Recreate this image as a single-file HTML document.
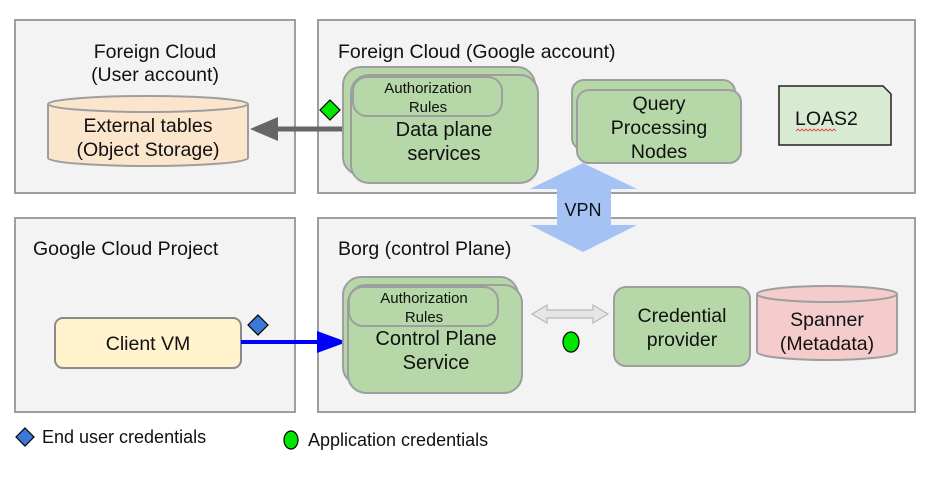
<!DOCTYPE html>
<html><head><meta charset="utf-8"><style>
body{margin:0;background:#fff;}
svg text{font-family:"Liberation Sans",Roboto,sans-serif;fill:#111;}
</style></head><body>
<svg width="944" height="472" viewBox="0 0 944 472" xmlns="http://www.w3.org/2000/svg">
<g fill="#f3f3f3" stroke="#9e9e9e" stroke-width="2">
<rect x="15" y="20" width="280" height="173"/>
<rect x="318" y="20" width="597" height="173"/>
<rect x="15" y="218" width="280" height="194"/>
<rect x="318" y="218" width="597" height="194"/>
</g>
<g font-size="19.5" text-anchor="middle">
<text x="155" y="58">Foreign Cloud</text>
<text x="155" y="81">(User account)</text>
</g>
<text x="338" y="58" font-size="19.5">Foreign Cloud (Google account)</text>
<text x="33" y="255" font-size="19.5">Google Cloud Project</text>
<text x="338" y="255" font-size="19.5">Borg (control Plane)</text>

<polygon points="583,163 637,189 611,189 611,225 637,225 583,252 530,225 557,225 557,189 530,189" fill="#a4c2f4"/>
<text x="583" y="216" font-size="18" text-anchor="middle">VPN</text>

<path d="M48,104 L48,158 A100,8 0 0 0 248,158 L248,104" fill="#fce5cd" stroke="#9e9e9e" stroke-width="2"/>
<ellipse cx="148" cy="104" rx="100" ry="8" fill="#fce5cd" stroke="#9e9e9e" stroke-width="2"/>
<g font-size="19.5" text-anchor="middle"><text x="148" y="132">External tables</text><text x="148" y="156">(Object Storage)</text></g>

<line x1="350" y1="129" x2="275" y2="129" stroke="#666" stroke-width="5"/>
<polygon points="250,129 278,117 278,141" fill="#666"/>
<polygon points="330,100 340,110 330,120 320,110" fill="#00e600" stroke="#000" stroke-width="1.2"/>

<rect x="343" y="67" width="192" height="108" rx="18" fill="#b6d7a8" stroke="#9e9e9e" stroke-width="2"/>
<rect x="351" y="75" width="187" height="108" rx="18" fill="#b6d7a8" stroke="#9e9e9e" stroke-width="2"/>
<rect x="353" y="77" width="149" height="39" rx="14" fill="#b6d7a8" stroke="#9e9e9e" stroke-width="2"/>
<g font-size="15" text-anchor="middle"><text x="428" y="93">Authorization</text><text x="428" y="112">Rules</text></g>
<g font-size="20" text-anchor="middle"><text x="444" y="136">Data plane</text><text x="444" y="160">services</text></g>

<rect x="572" y="80" width="163" height="70" rx="12" fill="#b6d7a8" stroke="#9e9e9e" stroke-width="2"/>
<rect x="577" y="90" width="164" height="73" rx="12" fill="#b6d7a8" stroke="#9e9e9e" stroke-width="2"/>
<g font-size="19.5" text-anchor="middle"><text x="659" y="110">Query</text><text x="659" y="134">Processing</text><text x="659" y="158">Nodes</text></g>

<polygon points="779,86 883,86 891,94 891,145 779,145" fill="#d9ead3" stroke="#222" stroke-width="1.5"/>
<text x="795" y="125" font-size="19.5">LOAS2</text>
<path d="M796,131 l2,-2 l2,2 l2,-2 l2,2 l2,-2 l2,2 l2,-2 l2,2 l2,-2 l2,2 l2,-2 l2,2 l2,-2 l2,2 l2,-2 l2,2 l2,-2 l2,2 l2,-2 l2,2" fill="none" stroke="#e33" stroke-width="0.8"/>

<rect x="55" y="318" width="186" height="50" rx="8" fill="#fff2cc" stroke="#8a8a8a" stroke-width="2"/>
<text x="148" y="350" font-size="19.5" text-anchor="middle">Client VM</text>
<line x1="241" y1="342" x2="320" y2="342" stroke="#0000ff" stroke-width="4"/>
<polygon points="347,342 317,331 317,353" fill="#0000ff"/>
<polygon points="258,315 268,325 258,335 248,325" fill="#3c78d8" stroke="#000" stroke-width="1.2"/>

<rect x="343" y="277" width="175" height="108" rx="18" fill="#b6d7a8" stroke="#9e9e9e" stroke-width="2"/>
<rect x="348" y="285" width="174" height="108" rx="18" fill="#b6d7a8" stroke="#9e9e9e" stroke-width="2"/>
<rect x="349" y="287" width="149" height="39" rx="14" fill="#b6d7a8" stroke="#9e9e9e" stroke-width="2"/>
<g font-size="15" text-anchor="middle"><text x="424" y="303">Authorization</text><text x="424" y="322">Rules</text></g>
<g font-size="20" text-anchor="middle"><text x="436" y="345">Control Plane</text><text x="436" y="369">Service</text></g>

<polygon points="532,314 547,305 547,310 593,310 593,305 608,314 593,323 593,318 547,318 547,323" fill="#e6e6e6" stroke="#b7b7b7" stroke-width="1.2"/>
<ellipse cx="571" cy="342" rx="8" ry="10" fill="#00e600" stroke="#000" stroke-width="1.2"/>

<rect x="614" y="287" width="136" height="79" rx="12" fill="#b6d7a8" stroke="#9e9e9e" stroke-width="2"/>
<g font-size="19.5" text-anchor="middle"><text x="682" y="322">Credential</text><text x="682" y="346">provider</text></g>

<path d="M757,294 L757,352 A70,8 0 0 0 897,352 L897,294" fill="#f4cccc" stroke="#9e9e9e" stroke-width="2"/>
<ellipse cx="827" cy="294" rx="70" ry="8" fill="#f4cccc" stroke="#9e9e9e" stroke-width="2"/>
<g font-size="19.5" text-anchor="middle"><text x="827" y="326">Spanner</text><text x="827" y="350">(Metadata)</text></g>

<polygon points="25,428 34,437 25,446 16,437" fill="#3c78d8" stroke="#000" stroke-width="1.2"/>
<text x="42" y="443" font-size="18">End user credentials</text>
<ellipse cx="291" cy="440" rx="7" ry="9" fill="#00e600" stroke="#000" stroke-width="1.2"/>
<text x="308" y="446" font-size="18">Application credentials</text>
</svg>
</body></html>
